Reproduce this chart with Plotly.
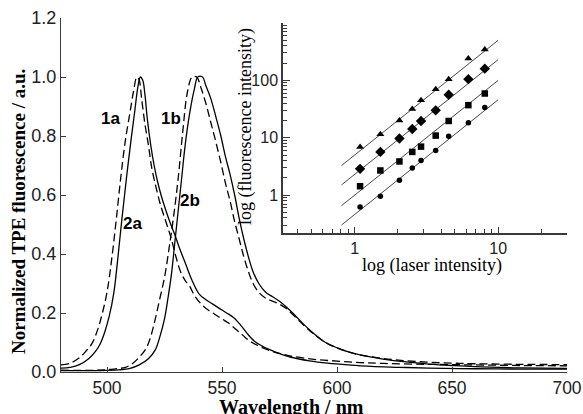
import plotly.graph_objects as go

# ---------------- main spectra data ----------------
wl_2a = [480, 484, 488, 492, 495, 497, 499, 501, 503, 504.5, 506.5, 508.5, 510.5, 512, 513.5, 514.5,
         515.5, 516.5, 517.5, 519, 520.5, 522, 523.5, 525.5, 527.5, 529.5, 531.5, 534, 537, 540, 543,
         546, 549, 552, 555, 558, 561, 564, 567, 571, 575, 580, 588, 596, 605, 615, 627, 640, 660, 680, 700]
int_2a = [.013, .016, .025, .045, .07, .095, .135, .19, .27, .37, .52, .66, .79, .88, .97, 1.0,
          .99, .94, .86, .77, .7, .645, .6, .55, .505, .465, .42, .37, .31, .265, .245,
          .23, .215, .2, .185, .16, .13, .105, .09, .075, .062, .05, .038, .03, .024, .019, .016, .013, .011, .01, .01]

wl_1a = [480, 484, 488, 491, 493.5, 496, 498, 500, 502, 504, 506, 508, 510, 511.5, 513, 514, 515, 516.5,
         518, 519.5, 521.5, 523.5, 526, 528, 530, 532, 534, 536, 538, 541, 544, 547, 550, 553, 556, 559,
         562, 566, 570, 575, 580, 590, 600, 610, 620, 640, 660, 680, 700]
int_1a = [.024, .03, .048, .072, .097, .145, .2, .27, .38, .515, .66, .786, .88, .95, 1.0, .99, .93, .84,
          .77, .69, .62, .56, .5, .45, .39, .34, .31, .29, .26, .23, .21, .195, .18, .165, .145, .125,
          .105, .088, .075, .063, .054, .043, .037, .032, .029, .026, .024, .022, .021]

wl_2b = [480, 495, 505, 510, 514, 518, 521, 523, 525, 526.5, 528, 529.5, 531, 532.5, 534, 536, 538, 539.5,
         541.5, 543, 545, 547.5, 549.5, 551.5, 553.5, 555.5, 557.5, 559.5, 561.5, 563.5, 566, 569, 572,
         575, 578, 582, 586, 590, 595, 600, 605, 610, 620, 630, 640, 650, 660, 680, 700]
int_2b = [.005, .005, .007, .012, .024, .045, .075, .12, .18, .25, .33, .44, .55, .66, .77, .88, .96, 1.0,
          1.0, .97, .93, .86, .8, .73, .67, .6, .52, .45, .39, .34, .3, .27, .255,
          .24, .22, .19, .158, .13, .1, .082, .068, .058, .044, .034, .027, .022, .018, .014, .012]

wl_1b = [480, 495, 503, 508, 511, 514, 517, 519, 521, 523, 525, 527, 529, 531, 533, 535, 537, 539, 541,
         543, 545, 547, 549.5, 551.5, 553.5, 555.5, 557.5, 559.5, 561.5, 563.5, 566, 569, 572, 575, 578,
         582, 586, 590, 595, 600, 605, 610, 620, 630, 640, 650, 660, 680, 700]
int_1b = [.006, .006, .01, .016, .028, .05, .08, .12, .18, .25, .32, .42, .53, .66, .82, .95, 1.0, 1.0, .96,
          .91, .85, .79, .71, .64, .58, .51, .45, .39, .34, .3, .27, .25, .24, .23, .215,
          .185, .155, .128, .1, .082, .068, .058, .046, .038, .033, .03, .028, .026, .025]

curve_labels = ["1a", "1b", "2a", "2b"]
label_wl = [501.7, 527.8, 511.3, 536.1]
label_int = [0.861, 0.861, 0.505, 0.583]

main_xticks = [500, 550, 600, 650, 700]
main_yticks = [0.0, 0.2, 0.4, 0.6, 0.8, 1.0, 1.2]

# ---------------- inset data ----------------
laser = [1.09, 1.51, 2.05, 2.52, 2.9, 3.67, 4.52, 6.2, 8.07]
fl_tri = [6.9, 11.5, 20, 31.8, 45, 70, 105, 240, 346]
fl_dia = [2.87, 5.66, 9.7, 14.2, 19.6, 30, 56, 105, 160]
fl_sq = [1.43, 2.69, 3.86, 5.66, 7.0, 10.9, 19.6, 37, 59]
fl_circ = [0.62, 0.96, 1.82, 2.98, 4.0, 6.0, 10.6, 18.3, 33.5]
fit_prefactor = [5.0, 2.3, 1.0, 0.46]
fit_exponent = 2.0
fit_range = [0.81, 10.0]

inset_xticks = [1, 10]
inset_yticks = [1, 10, 100]

SANS = "Liberation Sans, Arial, sans-serif"
SERIF = "Liberation Serif, Times New Roman, serif"
AX = "#3a3a3a"

fig = go.Figure()

dash_pat = "8px,4px"
for wl, iv, dash in [(wl_1a, int_1a, dash_pat), (wl_2a, int_2a, "solid"),
                     (wl_1b, int_1b, dash_pat), (wl_2b, int_2b, "solid")]:
    fig.add_trace(go.Scatter(x=wl, y=iv, mode="lines", line=dict(color="black", width=1.3, dash=dash),
                             line_shape="spline", showlegend=False, hoverinfo="skip"))

for txt, lx, ly in zip(curve_labels, label_wl, label_int):
    fig.add_annotation(x=lx, y=ly, xref="x", yref="y", text="<b>%s</b>" % txt, showarrow=False,
                       font=dict(family=SANS, size=17, color="black"))

# inset
series = [(fl_tri, "triangle-up", 7), (fl_dia, "diamond", 8), (fl_sq, "square", 6.5), (fl_circ, "circle", 5.5)]
for (vals, sym, sz), pref in zip(series, fit_prefactor):
    fx = fit_range
    fy = [pref * v ** fit_exponent for v in fx]
    fig.add_trace(go.Scatter(x=fx, y=fy, mode="lines", line=dict(color="#333", width=0.9),
                             xaxis="x2", yaxis="y2", showlegend=False, hoverinfo="skip"))
    fig.add_trace(go.Scatter(x=laser, y=vals, mode="markers", marker=dict(symbol=sym, size=sz, color="black"),
                             xaxis="x2", yaxis="y2", showlegend=False, hoverinfo="skip"))

minor_x = [0.4, 0.5, 0.6, 0.7, 0.8, 0.9, 2, 3, 4, 5, 6, 7, 8, 9, 20, 30]
minor_y = [0.3, 0.4, 0.5, 0.6, 0.7, 0.8, 0.9] + [k * m for m in (1, 10, 100) for k in range(2, 10)]

fig.update_layout(
    width=583, height=414, autosize=False,
    margin=dict(l=61, r=16, t=18, b=42, autoexpand=False),
    paper_bgcolor="white", plot_bgcolor="white",
    xaxis=dict(range=[480, 700], tickvals=main_xticks, ticks="inside", ticklen=5, tickcolor=AX,
               showline=True, linecolor=AX, linewidth=1.2, showgrid=False, zeroline=False, automargin=False,
               tickfont=dict(family=SANS, size=17.5, color="#222"), ticklabelstandoff=0),
    yaxis=dict(range=[0, 1.2], tickvals=main_yticks, tickformat=".1f", ticks="inside", ticklen=5,
               tickcolor=AX, showline=True, linecolor=AX, linewidth=1.2, showgrid=False, zeroline=False,
               automargin=False, tickfont=dict(family=SANS, size=18, color="#222")),
    xaxis2=dict(type="log", domain=[0.4387, 1.0], anchor="y2", range=[-0.5, 1.48],
                tickvals=inset_xticks, ticktext=[str(v) for v in inset_xticks], ticks="inside", ticklen=6,
                tickcolor=AX, showline=True, linecolor=AX, linewidth=1.5, showgrid=False, zeroline=False,
                automargin=False, tickfont=dict(family=SANS, size=16, color="#222"), ticklabelstandoff=0,
                minor=dict(tickvals=minor_x, ticks="inside", ticklen=4, tickcolor=AX, showgrid=False)),
    yaxis2=dict(type="log", domain=[0.3927, 0.9859], anchor="x2", range=[-0.66, 3.0],
                tickvals=inset_yticks, ticktext=[str(v) for v in inset_yticks], ticks="inside", ticklen=7,
                tickcolor=AX, showline=True, linecolor=AX, linewidth=1.5, showgrid=False, zeroline=False,
                automargin=False, tickfont=dict(family=SANS, size=16, color="#222"),
                minor=dict(tickvals=minor_y, ticks="inside", ticklen=4, tickcolor=AX, showgrid=False)),
)

# axis titles
fig.add_annotation(text="<b>Wavelength / nm</b>", xref="paper", yref="paper", x=(291 - 61) / 506,
                   y=-(407 - 372) / 354, xanchor="center", yanchor="middle", showarrow=False,
                   font=dict(family=SERIF, size=20, color="black"))
fig.add_annotation(text="<b>Normalized TPE fluorescence / a.u.</b>", xref="paper", yref="paper",
                   x=-(61 - 19) / 506, y=(372 - 212) / 354, xanchor="center", yanchor="middle",
                   textangle=-90, showarrow=False, font=dict(family=SERIF, size=19, color="black"))
fig.add_annotation(text="log (laser intensity)", xref="paper", yref="paper", x=(432 - 61) / 506,
                   y=(372 - 265) / 354, xanchor="center", yanchor="middle", showarrow=False,
                   font=dict(family=SERIF, size=18, color="black"))
fig.add_annotation(text="log (fluorescence intensity)", xref="paper", yref="paper", x=(245 - 61) / 506,
                   y=(372 - 127) / 354, xanchor="center", yanchor="middle", textangle=-90, showarrow=False,
                   font=dict(family=SERIF, size=18, color="black"))

fig.write_html("out.html")
